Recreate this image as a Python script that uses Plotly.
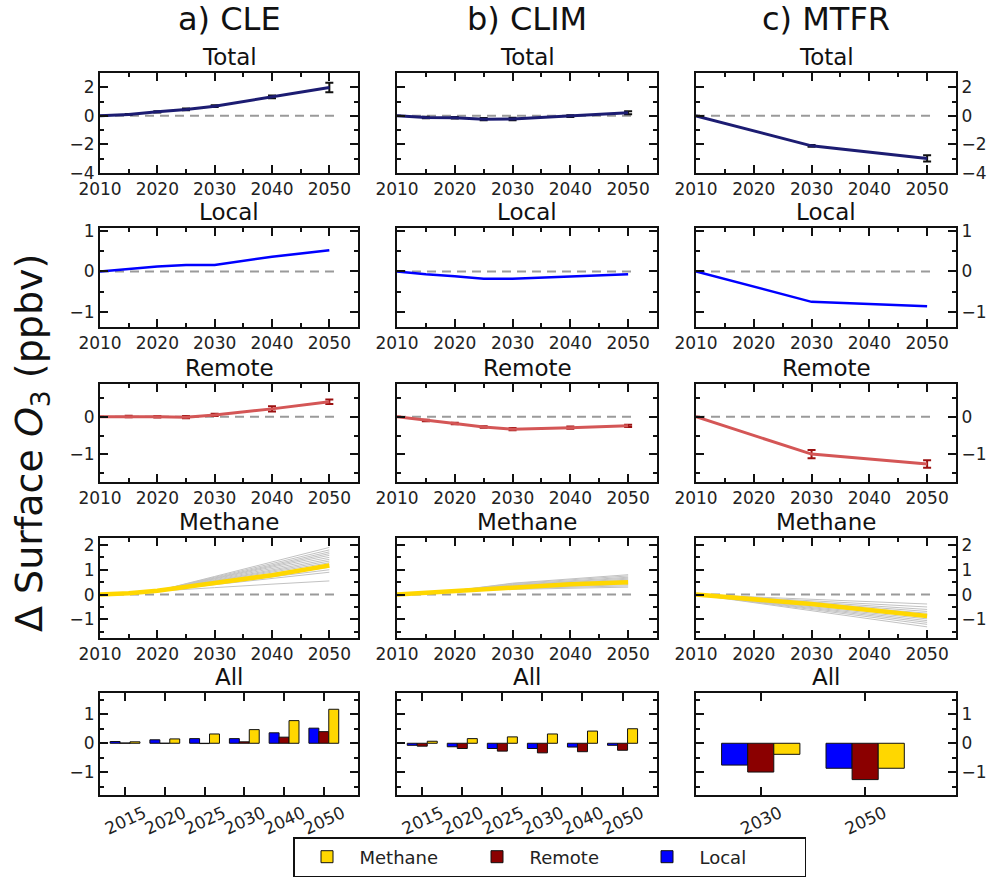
import plotly.graph_objects as go

# ---------------- data ----------------
years = [2010, 2015, 2020, 2025, 2030, 2040, 2050]
years_mtfr = [2010, 2030, 2050]
years_ens = [2010, 2020, 2030, 2040, 2050]
bar_labels = ["2015", "2020", "2025", "2030", "2040", "2050"]
bar_labels_mtfr = ["2030", "2050"]

col_titles = ["a) CLE", "b) CLIM", "c) MTFR"]
row_titles = ["Total", "Local", "Remote", "Methane", "All"]

total_cle = [0, 0.10, 0.28, 0.45, 0.68, 1.33, 1.98]
total_cle_err = [0, 0.03, 0.04, 0.06, 0.06, 0.10, 0.33]
total_clim = [0, -0.11, -0.13, -0.23, -0.22, -0.02, 0.22]
total_clim_err = [0, 0.05, 0.05, 0.08, 0.08, 0.06, 0.10]
total_mtfr = [0, -2.10, -2.98]
total_mtfr_err = [0, 0.06, 0.22]

local_cle = [0, 0.06, 0.12, 0.16, 0.16, 0.36, 0.52]
local_clim = [0, -0.07, -0.12, -0.18, -0.18, -0.13, -0.07]
local_mtfr = [0, -0.75, -0.86]

remote_cle = [0, 0.01, 0.0, -0.01, 0.05, 0.21, 0.40]
remote_cle_err = [0, 0.02, 0.02, 0.03, 0.03, 0.07, 0.06]
remote_clim = [0, -0.10, -0.18, -0.27, -0.33, -0.29, -0.24]
remote_clim_err = [0, 0.02, 0.02, 0.02, 0.03, 0.03, 0.03]
remote_mtfr = [0, -0.99, -1.25]
remote_mtfr_err = [0, 0.11, 0.10]

methane_cle = [0, 0.05, 0.15, 0.32, 0.47, 0.78, 1.17]
methane_clim = [0, 0.07, 0.16, 0.22, 0.32, 0.42, 0.50]
methane_mtfr = [0, -0.38, -0.86]

ens_cle = [
    [0, 0.15, 0.73, 1.32, 1.90],
    [0, 0.15, 0.70, 1.25, 1.80],
    [0, 0.15, 0.67, 1.20, 1.72],
    [0, 0.15, 0.65, 1.15, 1.65],
    [0, 0.15, 0.63, 1.10, 1.58],
    [0, 0.15, 0.60, 1.05, 1.50],
    [0, 0.15, 0.57, 1.00, 1.42],
    [0, 0.15, 0.55, 0.95, 1.35],
    [0, 0.15, 0.53, 0.90, 1.28],
    [0, 0.15, 0.50, 0.85, 1.20],
    [0, 0.15, 0.47, 0.78, 1.10],
    [0, 0.15, 0.43, 0.72, 1.00],
    [0, 0.15, 0.40, 0.65, 0.90],
    [0, 0.15, 0.28, 0.42, 0.55],
]
ens_clim = [
    [0, 0.16, 0.46, 0.63, 0.80],
    [0, 0.16, 0.44, 0.59, 0.75],
    [0, 0.16, 0.41, 0.56, 0.70],
    [0, 0.16, 0.39, 0.53, 0.66],
    [0, 0.16, 0.37, 0.50, 0.62],
    [0, 0.16, 0.35, 0.47, 0.58],
    [0, 0.16, 0.33, 0.44, 0.54],
    [0, 0.16, 0.31, 0.41, 0.50],
    [0, 0.16, 0.28, 0.37, 0.45],
    [0, 0.16, 0.26, 0.33, 0.40],
    [0, 0.16, 0.24, 0.29, 0.35],
    [0, 0.16, 0.21, 0.26, 0.30],
]
ens_mtfr = [
    [0, -0.19, -0.38],
    [0, -0.25, -0.50],
    [0, -0.30, -0.60],
    [0, -0.34, -0.68],
    [0, -0.38, -0.75],
    [0, -0.41, -0.82],
    [0, -0.45, -0.90],
    [0, -0.49, -0.98],
    [0, -0.53, -1.05],
    [0, -0.56, -1.12],
    [0, -0.60, -1.20],
    [0, -0.65, -1.30],
]

# ---------------- styling ----------------
W, H = 995, 879
FONT = "DejaVu Sans"
C_TOTAL = "#1c1c72"
C_LOCAL = "#0000ff"
C_REMOTE = "#d45656"
C_REMOTE_ERR = "#9b1010"
C_METH = "#ffd700"
C_ENS = "#c2c2c2"
BAR_LOCAL = "#0000ff"
BAR_REMOTE = "#8b0000"
BAR_METH = "#ffd700"

col_px = [(100, 358), (397, 657), (696, 956)]
row_px = [(73, 173), (228, 327), (384, 482), (538, 638), (693, 795)]
yranges = [[-4, 3], [-1.37, 1.07], [-1.73, 0.87], [-1.75, 2.28], [-1.78, 1.73]]
ydticks = [2, 1, 1, 1, 1]
yminor = [1, 0.5, 0.5, 0.5, 0.5]

fig = go.Figure()


def ax(r, c):
    i = r * 3 + c + 1
    return ("x" if i == 1 else f"x{i}"), ("y" if i == 1 else f"y{i}")


def add_zero(r, c, xs):
    xa, ya = ax(r, c)
    fig.add_trace(go.Scatter(x=[xs[0], xs[-1] + 1.5], y=[0, 0], mode="lines",
                             line=dict(color="#9a9a9a", width=2, dash="9px,6px"),
                             xaxis=xa, yaxis=ya, showlegend=False, hoverinfo="skip"))


cols_data = [
    dict(years=years, total=total_cle, total_err=total_cle_err, local=local_cle,
         remote=remote_cle, remote_err=remote_cle_err, meth=methane_cle, ens=ens_cle,
         ens_years=years_ens, bars=bar_labels),
    dict(years=years, total=total_clim, total_err=total_clim_err, local=local_clim,
         remote=remote_clim, remote_err=remote_clim_err, meth=methane_clim, ens=ens_clim,
         ens_years=years_ens, bars=bar_labels),
    dict(years=years_mtfr, total=total_mtfr, total_err=total_mtfr_err, local=local_mtfr,
         remote=remote_mtfr, remote_err=remote_mtfr_err, meth=methane_mtfr, ens=ens_mtfr,
         ens_years=years_mtfr, bars=bar_labels_mtfr),
]

for c, d in enumerate(cols_data):
    ys = d["years"]
    # Total
    add_zero(0, c, ys)
    xa, ya = ax(0, c)
    fig.add_trace(go.Scatter(x=ys, y=d["total"], mode="lines",
                             line=dict(color=C_TOTAL, width=3),
                             error_y=dict(type="data", array=d["total_err"], color="#111111",
                                          thickness=2, width=4),
                             xaxis=xa, yaxis=ya, showlegend=False))
    # Local
    add_zero(1, c, ys)
    xa, ya = ax(1, c)
    fig.add_trace(go.Scatter(x=ys, y=d["local"], mode="lines",
                             line=dict(color=C_LOCAL, width=2.5),
                             xaxis=xa, yaxis=ya, showlegend=False))
    # Remote
    add_zero(2, c, ys)
    xa, ya = ax(2, c)
    fig.add_trace(go.Scatter(x=ys, y=d["remote"], mode="lines",
                             line=dict(color=C_REMOTE, width=3),
                             error_y=dict(type="data", array=d["remote_err"], color=C_REMOTE_ERR,
                                          thickness=2, width=4),
                             xaxis=xa, yaxis=ya, showlegend=False))
    # Methane
    add_zero(3, c, ys)
    xa, ya = ax(3, c)
    for e in d["ens"]:
        fig.add_trace(go.Scatter(x=d["ens_years"], y=e, mode="lines",
                                 line=dict(color=C_ENS, width=1),
                                 xaxis=xa, yaxis=ya, showlegend=False, hoverinfo="skip"))
    fig.add_trace(go.Scatter(x=ys, y=d["meth"], mode="lines",
                             line=dict(color=C_METH, width=4.5),
                             xaxis=xa, yaxis=ya, showlegend=False))
    # All (bars)
    xa, ya = ax(4, c)
    for name, vals, col in [("Local", d["local"], BAR_LOCAL),
                            ("Remote", d["remote"], BAR_REMOTE),
                            ("Methane", d["meth"], BAR_METH)]:
        fig.add_trace(go.Bar(x=d["bars"], y=vals[1:], name=name, marker_color=col,
                             marker_line=dict(color="#111111", width=1),
                             xaxis=xa, yaxis=ya, showlegend=(c == 0),
                             legendgroup=name))

layout = dict(
    width=W, height=H,
    margin=dict(l=0, r=0, t=0, b=0, autoexpand=False),
    paper_bgcolor="white", plot_bgcolor="white",
    font=dict(family=FONT, size=17, color="#222222"),
    barmode="group", bargap=0.25, bargroupgap=0,
    showlegend=True,
    legend=dict(orientation="h", x=293 / W, y=1 - 877 / H, xanchor="left", yanchor="bottom",
                traceorder="reversed", bordercolor="#111111", borderwidth=1.5,
                bgcolor="white", font=dict(size=18, family=FONT),
                entrywidth=100, entrywidthmode="pixels", itemwidth=55),
)

for r in range(5):
    for c in range(3):
        i = r * 3 + c + 1
        xk = "xaxis" if i == 1 else f"xaxis{i}"
        yk = "yaxis" if i == 1 else f"yaxis{i}"
        x0, x1 = col_px[c]
        y0, y1 = row_px[r]
        common = dict(showline=True, linecolor="#111111", linewidth=2, mirror="allticks",
                      ticks="inside", ticklen=8, tickwidth=1.5, tickcolor="#111111",
                      showgrid=False, zeroline=False, automargin=False,
                      tickfont=dict(size=17, family=FONT, color="#222222"))
        xa = dict(common, domain=[x0 / W, x1 / W],
                  anchor=("y" if i == 1 else f"y{i}"))
        if r < 4:
            xa.update(range=[2010, 2055], dtick=10, tick0=2010,
                      minor=dict(dtick=5, ticks="inside", ticklen=4, tickcolor="#111111"))
        else:
            nb = len(cols_data[c]["bars"])
            if c == 2:
                xa.update(type="category", range=[-0.62, nb - 1 + 0.87], tickangle=-25,
                          ticklabelshift=19)
            else:
                xa.update(type="category", range=[-0.63, nb - 1 + 0.86], tickangle=-25,
                          ticklabelshift=19)
        ya = dict(common, domain=[1 - y1 / H, 1 - y0 / H],
                  anchor=("x" if i == 1 else f"x{i}"),
                  range=yranges[r], dtick=ydticks[r], tick0=0,
                  minor=dict(dtick=yminor[r], ticks="inside", ticklen=4, tickcolor="#111111"))
        if c == 1:
            ya["showticklabels"] = False
        if c == 2:
            ya["side"] = "right"
        layout[xk] = xa
        layout[yk] = ya

annotations = []
for c in range(3):
    cx = (col_px[c][0] + col_px[c][1]) / 2 / W
    annotations.append(dict(text=col_titles[c], x=cx, y=1 - 19 / H, xref="paper", yref="paper",
                            showarrow=False, font=dict(size=32, family=FONT, color="#111111"),
                            xanchor="center", yanchor="middle"))
    for r in range(5):
        annotations.append(dict(text=row_titles[r], x=cx, y=1 - (row_px[r][0] - 1) / H,
                                xref="paper", yref="paper", showarrow=False,
                                font=dict(size=23, family=FONT, color="#111111"),
                                xanchor="center", yanchor="bottom"))
annotations.append(dict(text="Δ Surface <i>O</i><sub>3</sub> (ppbv)", x=31 / W, y=1 - 443 / H,
                        xref="paper", yref="paper", showarrow=False, textangle=-90,
                        font=dict(size=38, family=FONT, color="#111111"),
                        xanchor="center", yanchor="middle"))
layout["annotations"] = annotations

fig.update_layout(**layout)
fig.write_html("out.html")
